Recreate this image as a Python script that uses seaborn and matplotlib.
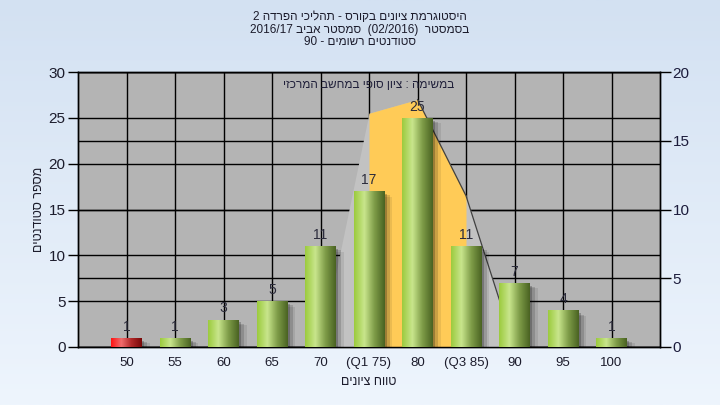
import numpy as np
import matplotlib
matplotlib.use("Agg")
import matplotlib.pyplot as plt
import matplotlib.patheffects as pe
from matplotlib.colors import LinearSegmentedColormap
import seaborn as sns

# grade buckets and number of students in each
grades = ['50', '55', '60', '65', '70', '(Q1 75)', '80', '(Q3 85)', '90', '95', '100']
counts = [1, 1, 3, 5, 11, 17, 25, 11, 7, 4, 1]

# background area (right axis)
curve_grades = ['70', '(Q1 75)', '80', '(Q3 85)', '90']
curve_values = [0, 17, 18, 11, 0]
iqr_grades = ['(Q1 75)', '80', '(Q3 85)']

title_lines = ['היסטוגרמת ציונים בקורס - תהליכי הפרדה 2',
               'בסמסטר  (02/2016)  סמסטר אביב 2016/17',
               'סטודנטים רשומים - 90']
note = 'במשימה : ציון סופי במחשב המרכזי'
xlabel = 'טווח ציונים'
ylabel = 'מספר סטודנטים'


def heb(s):
    """Simple visual ordering for right-to-left text."""
    out = []
    for w in reversed(s.split(' ')):
        if any('\u0590' <= c <= '\u05ff' for c in w):
            out.append(w[::-1])
        else:
            out.append(w)
    return ' '.join(out)


sns.set_theme(style='white')
plt.rcParams['font.family'] = ['Liberation Sans Narrow', 'Liberation Sans', 'DejaVu Sans']

fig = plt.figure(figsize=(7.2, 4.05), dpi=100)

# light blue gradient background
bg = fig.add_axes([0, 0, 1, 1], zorder=-5)
bg_cmap = LinearSegmentedColormap.from_list('bg', ['#d3e1f2', '#eef5fd'])
bg.imshow(np.linspace(0, 1, 256).reshape(-1, 1), cmap=bg_cmap, aspect='auto', extent=[0, 1, 0, 1])
bg.axis('off')

rect = [78 / 720, 58 / 405, 582 / 720, 275 / 405]
ax = fig.add_axes(rect, zorder=1)        # left scale + grid
ax2 = ax.twinx()                          # right scale + area
ax2.set_zorder(2)
ax3 = fig.add_axes(rect, zorder=3, sharex=ax, sharey=ax)  # bars
ax3.patch.set_visible(False)

ax.set_facecolor('#b4b4b4')

# bars
sns.barplot(x=grades, y=counts, hue=grades, palette=['#9cc83c'] * len(grades),
            legend=False, width=0.62, ax=ax3, zorder=2)

green = LinearSegmentedColormap.from_list('g', ['#9ccb3e', '#c8e58c', '#7e9c48', '#4a6322'])
red = LinearSegmentedColormap.from_list('r', ['#ff1414', '#f06c6c', '#b02828', '#780808'])
grad = np.linspace(0, 1, 64).reshape(1, -1)
shadow = [pe.SimplePatchShadow(offset=(6, -4), shadow_rgbFace='black', alpha=0.08),
          pe.SimplePatchShadow(offset=(4, -3), shadow_rgbFace='black', alpha=0.14),
          pe.SimplePatchShadow(offset=(2, -2), shadow_rgbFace='black', alpha=0.22),
          pe.Normal()]
for p in ax3.patches:
    x0, w, h = p.get_x(), p.get_width(), p.get_height()
    idx = int(round(x0 + w / 2))
    cmap = red if idx == 0 else green
    p.set_path_effects(shadow)
    p.set_linewidth(0)
    im = ax3.imshow(grad, cmap=cmap, aspect='auto', extent=[x0, x0 + w, 0, h], zorder=2.5)
    im.set_clip_path(p)

for c in ax3.containers:
    ax3.bar_label(c, padding=3, fontsize=10, color='#2b2b3b')

# area behind bars
cx = [grades.index(g) for g in curve_grades]
ax2.fill_between(cx, curve_values, color='#c2c2c2', lw=0, zorder=1)
qx = [grades.index(g) for g in iqr_grades]
qv = [curve_values[curve_grades.index(g)] for g in iqr_grades]
ax2.fill_between(qx, qv, color='#ffcb57', lw=0, zorder=1.1)
ax2.plot(cx[2:], curve_values[2:], color='#404040', lw=0.9, zorder=1.2)

# axes ranges / ticks
ax3.set_xlim(-1, len(grades))
ax.set_ylim(0, 30)
ax.set_yticks(range(0, 31, 5))
ax2.set_ylim(0, 20)
ax2.set_yticks(range(0, 21, 5))

ax.grid(True, color='black', lw=1)
ax2.set_axisbelow(True)
ax2.grid(True, axis='y', color='black', lw=1)

ax.tick_params(axis='y', direction='out', length=7, width=1, color='black',
               labelsize=11, labelcolor='#1c1c2c', pad=2, left=True)
ax.tick_params(axis='x', length=0, labelsize=9.5, labelcolor='#1c1c2c', pad=7)
ax2.tick_params(axis='y', direction='out', length=8, width=1, color='black',
                labelsize=11, labelcolor='#1c1c3c', pad=1, right=True)
for a in (ax, ax2):
    for s in a.spines.values():
        s.set_color('black')
        s.set_linewidth(1)
ax3.axis('off')

ax.set_xlabel(heb(xlabel), fontsize=9, color='#1c1c2c', labelpad=5)
ax.set_ylabel(heb(ylabel), fontsize=9, color='#1c1c2c', labelpad=4)
ax.yaxis.set_label_coords(-33 / 582, 0.5)

ax3.text(0.5, 0.952, heb(note), transform=ax3.transAxes, ha='center', va='center',
         fontsize=8.5, color='#20203a')

for i, line in enumerate(title_lines):
    fig.text(0.5, 1 - (17 + 12.5 * i) / 405, heb(line), ha='center', va='center',
             fontsize=8.5, color='#1c1c2c')

fig.savefig('out.png', dpi=100)
